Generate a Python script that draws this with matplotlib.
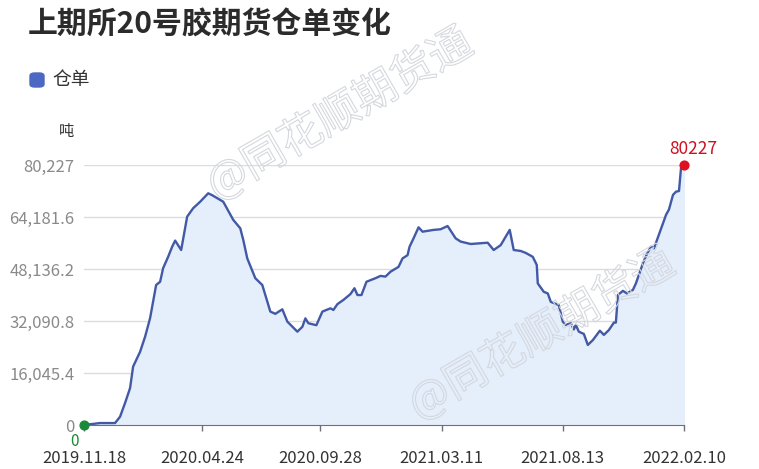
import matplotlib
matplotlib.use('Agg')
import matplotlib.pyplot as plt
import matplotlib.patheffects as pe
from matplotlib.patches import FancyBboxPatch

plt.rcParams['font.family'] = ['Noto Sans CJK SC', 'DejaVu Sans']

# trading-day index (0 = 2019.11.18) and warehouse receipts (tons)
day_idx = [0, 8, 16, 25, 31, 36, 41, 46, 49, 56, 61, 66, 72, 76, 79, 84, 88, 91, 97,
           103, 109, 116, 124, 128, 139, 149, 156, 159, 163, 171, 178, 186, 191, 198,
           203, 213, 218, 221, 224, 232, 238, 246, 249, 253, 259, 266, 270, 273, 277,
           282, 291, 296, 301, 306, 314, 318, 323, 325, 329, 334, 338, 349, 356, 363,
           371, 376, 386, 403, 409, 416, 425, 429, 436, 441, 448, 452, 453, 459, 463,
           466, 474, 478, 481, 486, 489, 491, 494, 499, 503, 508, 515, 519, 524, 529,
           531, 533, 538, 542, 548, 551, 558, 562, 566, 569, 578, 581, 584, 588, 591,
           594, 596, 599]
receipts = [0, 300, 600, 600, 600, 2560, 6800, 11400, 18000, 22600, 27250, 33000,
            43200, 44200, 48400, 51900, 55000, 56900, 54000, 64300, 66900, 68900,
            71500, 70900, 68900, 63300, 60700, 57100, 51400, 45300, 43200, 35000,
            34300, 35700, 31900, 28800, 30300, 32900, 31400, 30800, 35000, 36000,
            35500, 37300, 38600, 40400, 42200, 40100, 40100, 44200, 45300, 46000,
            45800, 47300, 48800, 51400, 52400, 55000, 57600, 61000, 59650, 60200,
            60400, 61400, 57600, 56600, 55850, 56250, 54000, 55500, 60200, 54000,
            53700, 53100, 51900, 49400, 43700, 41100, 40600, 38000, 37000, 31900,
            30900, 31400, 29500, 30900, 28800, 28100, 24700, 26200, 29100, 27800,
            29300, 31600, 31600, 40100, 41400, 40600, 41700, 43700, 49900, 52800,
            55000, 54500, 62200, 64800, 66500, 71000, 72000, 72200, 79200, 80227]

tick_idx = [0, 118, 236, 357, 478, 599]
tick_labels = ['2019.11.18', '2020.04.24', '2020.09.28', '2021.03.11', '2021.08.13', '2022.02.10']
y_ticks = [0, 16045.4, 32090.8, 48136.2, 64181.6, 80227]
y_labels = ['0', '16,045.4', '32,090.8', '48,136.2', '64,181.6', '80,227']

line_color = '#4259a6'
fig = plt.figure(figsize=(7.59, 4.69), dpi=100)
ax = fig.add_axes([84 / 759, 44 / 469, 600 / 759, 260 / 469])

ax.fill_between(day_idx, receipts, color='#e5eefb', zorder=1)
ax.plot(day_idx, receipts, color=line_color, lw=1.7, zorder=3)

ax.set_xlim(0, 599)
ax.set_ylim(0, 80227)
ax.set_yticks(y_ticks)
ax.set_yticklabels(y_labels)
ax.set_xticks(tick_idx)
ax.set_xticklabels(tick_labels)
ax.tick_params(axis='y', length=0, pad=7, labelsize=12, labelcolor='#8a8a8a')
ax.tick_params(axis='x', length=4, width=1, color='#6e7079', pad=14,
               labelsize=12, labelcolor='#333333')
ax.grid(axis='y', color='#dcdcdc', lw=1)
ax.set_axisbelow(True)
for s in ['top', 'right', 'left']:
    ax.spines[s].set_visible(False)
ax.spines['bottom'].set_color('#6e7079')
ax.spines['bottom'].set_zorder(4)

# start / end markers
ax.scatter([day_idx[0]], [receipts[0]], s=40, color='#1a8a3a', zorder=5, clip_on=False)
ax.annotate(str(receipts[0]), (day_idx[0], receipts[0]), xytext=(-7, -6),
            textcoords='offset points', ha='center', va='top', fontsize=11, color='#1a8a3a')
ax.scatter([day_idx[-1]], [receipts[-1]], s=40, color='#e0101e', zorder=5, clip_on=False)
ax.annotate(str(receipts[-1]), (day_idx[-1], receipts[-1]), xytext=(7, 5),
            textcoords='offset points', ha='center', va='bottom', fontsize=12.5, color='#d0101e')

# title, legend, unit
fig.text(28 / 759, 1 - 25 / 469, '上期所20号胶期货仓单变化', fontsize=21.5, fontweight='bold',
         color='#2b2b2b', va='center', ha='left')
fig.patches.append(FancyBboxPatch((30 / 759, 1 - 87 / 469), 14 / 759, 14 / 469,
                                  boxstyle='round,pad=0,rounding_size=0.006',
                                  transform=fig.transFigure, color='#4d68c2'))
fig.text(52 / 759, 1 - 80 / 469, '仓单', fontsize=13.5, color='#333333', va='center', ha='left')
fig.text(66 / 759, 1 - 131 / 469, '吨', fontsize=11, color='#333333', va='center', ha='center')

# watermarks
for cx, cy in [(340, 115), (542, 335)]:
    fig.text(cx / 759, 1 - cy / 469, '@同花顺期货通', fontsize=31, rotation=30,
             ha='center', va='center', color=(1, 1, 1, 0), zorder=10,
             path_effects=[pe.Stroke(linewidth=0.8, foreground='#d4d8de')])

fig.savefig('out.png', dpi=100)
